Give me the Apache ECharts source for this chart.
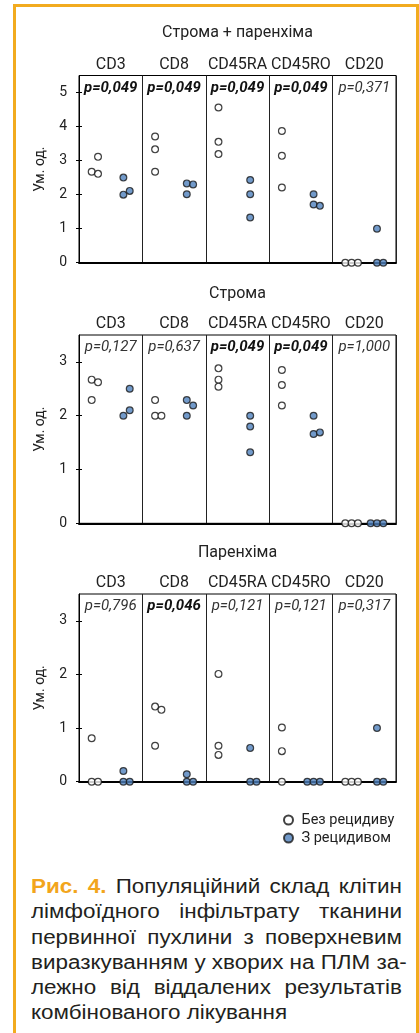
<!DOCTYPE html>
<html><head><meta charset="utf-8">
<script src="https://cdn.jsdelivr.net/npm/echarts@6/dist/echarts.min.js"></script>
<style>
html,body{margin:0;padding:0;background:#fff;}
#frame{position:absolute;left:13px;top:4px;width:400px;height:1100px;border:3px solid #F2AB1F;border-bottom:none;box-sizing:content-box;}
#chart{position:absolute;left:0;top:0;width:419px;height:860px;}
#caption{position:absolute;left:31px;top:874px;width:322.6px;transform:scaleX(1.15);transform-origin:0 0;font-family:"Liberation Sans",Arial,sans-serif;font-size:19.5px;line-height:25.3px;color:#231F20;}
#caption div{white-space:nowrap;}
#caption .j{text-align:justify;text-align-last:justify;}
#caption .fig{color:#F2A51C;font-weight:bold;}
</style></head>
<body>
<div id="frame"></div>
<div id="chart"></div>
<div id="caption">
<div class="j"><span class="fig">Рис. 4.</span> Популяційний склад клітин</div>
<div class="j">лімфоїдного інфільтрату тканини</div>
<div class="j">первинної пухлини з поверхневим</div>
<div class="j">виразкуванням у хворих на ПЛМ за-</div>
<div class="j">лежно від віддалених результатів</div>
<div>комбінованого лікування</div>
</div>
<script>
// ---- data ----
const categories = ['CD3','CD8','CD45RA','CD45RO','CD20'];
const panelTitles = ['Строма + паренхіма','Строма','Паренхіма'];
const seriesNames = ['Без рецидиву','З рецидивом'];
const yAxisName = 'Ум. од.';
const yMax = [5.5, 3.5, 3.5];
const yTicks1 = [0,1,2,3,4,5];
const yTicks2 = [0,1,2,3];
const yTicks3 = [0,1,2,3];

const pValues1 = ['0,049','0,049','0,049','0,049','0,371'];
const pValues2 = ['0,127','0,637','0,049','0,049','1,000'];
const pValues3 = ['0,796','0,046','0,121','0,121','0,317'];

// values per category (3 patients each), and the side-by-side slot of each dot
const noRelapse1 = [[2.67,2.61,3.11],[3.71,3.33,2.67],[4.56,3.55,3.19],[3.87,3.14,2.21],[0,0,0]];
const noRelapseSlots1 = [[0,1,1],[0,0,0],[0,0,0],[0,0,0],[0,1,2]];
const relapse1 = [[2.50,2.00,2.11],[2.33,2.30,2.01],[2.43,2.01,1.33],[2.01,1.71,1.67],[1.00,0,0]];
const relapseSlots1 = [[0,0,1],[0,1,0],[0,0,0],[0,0,1],[0,0,1]];

const noRelapse2 = [[2.67,2.62,2.29],[2.29,2.00,2.00],[2.88,2.67,2.54],[2.85,2.57,2.19],[0,0,0]];
const noRelapseSlots2 = [[0,1,0],[0,0,1],[0,0,0],[0,0,0],[0,1,2]];
const relapse2 = [[2.50,2.00,2.10],[2.29,2.19,2.00],[2.00,1.80,1.32],[2.00,1.66,1.69],[0,0,0]];
const relapseSlots2 = [[1,0,1],[0,1,0],[0,0,0],[0,0,1],[-1,0,1]];

const noRelapse3 = [[0.81,0,0],[1.40,1.34,0.67],[2.01,0.67,0.50],[1.01,0.57,0],[0,0,0]];
const noRelapseSlots3 = [[0,0,1],[0,1,0],[0,0,0],[0,0,0],[0,1,2]];
const relapse3 = [[0.20,0,0],[0.14,0,0],[0.63,0,0],[0,0,0],[1.00,0,0]];
const relapseSlots3 = [[0,0,1],[0,0,1],[0,0,1],[-1,0,1],[0,0,1]];

// ---- build ----
const FONT = 'Roboto';
const panels = [
  {title: panelTitles[0], max: yMax[0], ticks: yTicks1, p: pValues1, groups: [[noRelapse1,noRelapseSlots1],[relapse1,relapseSlots1]], top: 75.5, height: 187.2, titleY: 33},
  {title: panelTitles[1], max: yMax[1], ticks: yTicks2, p: pValues2, groups: [[noRelapse2,noRelapseSlots2],[relapse2,relapseSlots2]], top: 335, height: 188.3, titleY: 294},
  {title: panelTitles[2], max: yMax[2], ticks: yTicks3, p: pValues3, groups: [[noRelapse3,noRelapseSlots3],[relapse3,relapseSlots3]], top: 594, height: 187.7, titleY: 553}
];
const GRID_LEFT = 79, GRID_W = 317;
const grid = [], xAxis = [], yAxis = [], series = [], graphic = [];
const styles = [
  {color:'#ffffff', borderColor:'#111111', borderWidth:1.2},
  {color:'#4F81BD', borderColor:'#1a1a1a', borderWidth:1.2}
];
panels.forEach((pn, k) => {
  grid.push({left: GRID_LEFT, width: GRID_W, top: pn.top, height: pn.height, show: true, borderColor: '#000', borderWidth: 1, backgroundColor: 'transparent'});
  xAxis.push({type:'value', gridIndex:k, min:0, max:categories.length*2, interval:2, position:'bottom',
    axisLine:{show:true, onZero:false, lineStyle:{color:'#000', width:2}}, axisTick:{show:false}, axisLabel:{show:false},
    splitLine:{show:true, lineStyle:{color:'#222', width:1}}});
  xAxis.push({type:'category', gridIndex:k, data:categories, position:'top', boundaryGap:true,
    axisLine:{show:false}, axisTick:{show:false}, splitLine:{show:false},
    axisLabel:{interval:0, margin:3, fontFamily:FONT, fontSize:16, color:'#222'}});
  xAxis.push({type:'category', gridIndex:k, data:pn.p, position:'top', boundaryGap:true,
    axisLine:{show:false}, axisTick:{show:false}, splitLine:{show:false},
    axisLabel:{interval:0, inside:true, margin:5, fontFamily:FONT, fontSize:15,
      formatter: v => (parseFloat(v.replace(',','.')) < 0.05 ? '{b|p=' + v + '}' : '{n|p=' + v + '}'),
      rich:{b:{fontFamily:FONT, fontSize:15, fontStyle:'italic', fontWeight:'bold', color:'#111'},
            n:{fontFamily:FONT, fontSize:15, fontStyle:'italic', fontWeight:'normal', color:'#333'}}}});
  yAxis.push({type:'value', gridIndex:k, min:0, max:pn.max, position:'left',
    name: yAxisName, nameLocation:'middle', nameRotate:90, nameGap:32,
    nameTextStyle:{fontFamily:FONT, fontSize:14, color:'#222'},
    axisLine:{show:true, onZero:false, lineStyle:{color:'#000', width:1}},
    axisTick:{show:true, length:3, customValues:pn.ticks, lineStyle:{color:'#000'}},
    axisLabel:{customValues:pn.ticks, margin:12, fontFamily:FONT, fontSize:14, color:'#222'},
    splitLine:{show:false}});
  yAxis.push({type:'value', gridIndex:k, min:0, max:pn.max, position:'left',
    axisLine:{show:false}, axisLabel:{show:false}, splitLine:{show:false},
    axisTick:{show:true, inside:true, length:3, customValues:pn.ticks, lineStyle:{color:'#000'}}});
  pn.groups.forEach((g, gi) => {
    const [vals, slots] = g;
    const data = [];
    vals.forEach((arr, c) => arr.forEach((v, i) => {
      data.push([c*2 + gi + 0.4 + slots[c][i]*0.2, v]);
    }));
    series.push({type:'scatter', name: seriesNames[gi], xAxisIndex: k*3, yAxisIndex: k*2,
      data, symbol:'circle', symbolSize:6.8, clip:false, itemStyle: styles[gi], z:5,
      emphasis:{disabled:true}});
  });
  graphic.push({type:'text', x: GRID_LEFT + GRID_W/2, y: pn.titleY,
    style:{text: pn.title, fontFamily:FONT, fontSize:16, fill:'#222', textAlign:'center', textVerticalAlign:'middle'}});
});

const chart = echarts.init(document.getElementById('chart'), null, {renderer:'canvas'});
chart.setOption({
  animation:false,
  textStyle:{fontFamily:FONT},
  grid, xAxis, yAxis, series, graphic,
  legend:{data: seriesNames, orient:'vertical', left:278, top:807, itemWidth:16, itemHeight:9, itemGap:2,
    icon:'circle', textStyle:{fontFamily:FONT, fontSize:14.5, color:'#222', lineHeight:16}}
});
</script>
</body></html>
